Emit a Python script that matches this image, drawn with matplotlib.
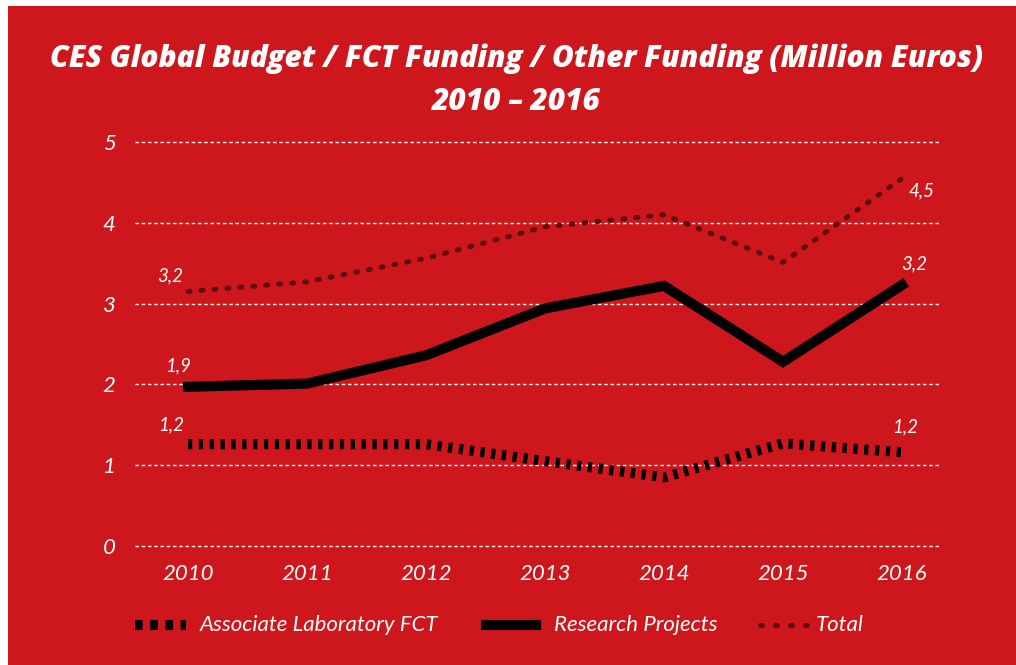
import matplotlib
matplotlib.use("Agg")
import matplotlib.pyplot as plt
from matplotlib.patches import Rectangle
from matplotlib.lines import Line2D

years = [2010, 2011, 2012, 2013, 2014, 2015, 2016]
associate = [1.26, 1.26, 1.26, 1.05, 0.85, 1.27, 1.16]
research = [1.97, 2.01, 2.36, 2.94, 3.22, 2.28, 3.23]
total = [3.15, 3.27, 3.56, 3.95, 4.10, 3.51, 4.55]
yticks = [0, 1, 2, 3, 4, 5]
series_names = ["Associate Laboratory FCT", "Research Projects", "Total"]
title = "CES Global Budget / FCT Funding / Other Funding (Million Euros)\n2010 – 2016"

RED = "#CD171C"
DARK = "#5e0d10"
W, H = 1016, 665

fig = plt.figure(figsize=(W / 100, H / 100), dpi=100, facecolor="white")
fig.patches.append(Rectangle((8 / W, 0), 1, 1 - 6 / H, transform=fig.transFigure,
                             facecolor=RED, edgecolor="none", zorder=-5))

font = ["Lato", "DejaVu Sans"]

def fx(px):
    return px / W

def fy(py):
    return 1 - py / H

# axes: x from 135 to 940 px, y from 546 (0) to 142 (5)
x0, x1 = 135, 940
y0, y5 = 546, 142
ppu = (y0 - y5) / 5.0
ybot, ytop = -0.05, 5.3
ax = fig.add_axes([fx(x0), (H - y0 + ybot * ppu) / H, (x1 - x0) / W, ((ytop - ybot) * ppu) / H])
ax.set_zorder(1)
ax.set_facecolor("none")
ax.set_ylim(ybot, ytop)
ax.set_xlim(2010 - 53 / 119, 2016 + 38 / 119)

for t in yticks:
    ax.axhline(t, color="white", lw=1.0, ls=(0, (2.5, 2.0)), zorder=1)

LW = 7.3
ax.plot(years, total, color=DARK, lw=3.6, ls=(0, (0.4, 2.2)),
        solid_capstyle="round", dash_capstyle="round", zorder=3)
ax.plot(years, research, color="black", lw=LW, solid_joinstyle="miter", zorder=3)
ax.plot(years, associate, color="black", lw=LW, ls=(0, (0.42, 0.65)),
        dash_capstyle="butt", zorder=3)

for s in ax.spines.values():
    s.set_visible(False)
ax.set_yticks(yticks)
ax.set_yticklabels([str(t) for t in yticks])
ax.set_xticks(years)
ax.set_xticklabels([str(y) for y in years])
ax.tick_params(length=0, colors="white", labelsize=16)
ax.tick_params(axis="y", pad=14)
ax.tick_params(axis="x", pad=10)
for lab in ax.get_xticklabels() + ax.get_yticklabels():
    lab.set_fontstyle("italic")
    lab.set_family(font)

def lbl(x, y, v, dx, dy):
    ax.annotate(v, (x, y), xytext=(dx, dy), textcoords="offset points",
                color="white", fontsize=13.5, fontstyle="italic",
                family=font, ha="center", va="center")

def fmt(v):
    return f"{v:.1f}".replace(".", ",")

lbl(years[0], total[0], fmt(3.2), -13, 11)
lbl(years[-1], total[-1], fmt(4.5), 14, -9)
lbl(years[0], research[0], fmt(1.9), -7, 15)
lbl(years[-1], research[-1], fmt(3.2), 9, 15)
lbl(years[0], associate[0], fmt(1.2), -12, 14)
lbl(years[-1], associate[-1], fmt(1.2), 2, 18)

fig.text(0.508, fy(80), title, ha="center", va="center", color="white",
         fontsize=21.5, fontweight="heavy", fontstyle="italic",
         family=["Open Sans", "DejaVu Sans"], linespacing=1.55)

# legend (manual layout)
ly = fy(625)
leg_font = dict(family=font, fontstyle="italic", fontsize=16,
                color="white", va="center", ha="left")
fig.add_artist(Line2D([fx(135), fx(186)], [ly, ly], transform=fig.transFigure,
                      color="black", lw=LW, ls=(0, (0.75, 0.75)), dash_capstyle="butt"))
fig.text(fx(200), ly, series_names[0], **leg_font)
fig.add_artist(Line2D([fx(486), fx(536)], [ly, ly], transform=fig.transFigure,
                      color="black", lw=LW))
fig.text(fx(554), ly, series_names[1], **leg_font)
fig.add_artist(Line2D([fx(760), fx(807)], [ly, ly], transform=fig.transFigure,
                      color=DARK, lw=3.6, ls=(0, (0.4, 2.6)), dash_capstyle="round"))
fig.text(fx(816), ly, series_names[2], **leg_font)

fig.savefig("out.png", dpi=100, facecolor=fig.get_facecolor())
